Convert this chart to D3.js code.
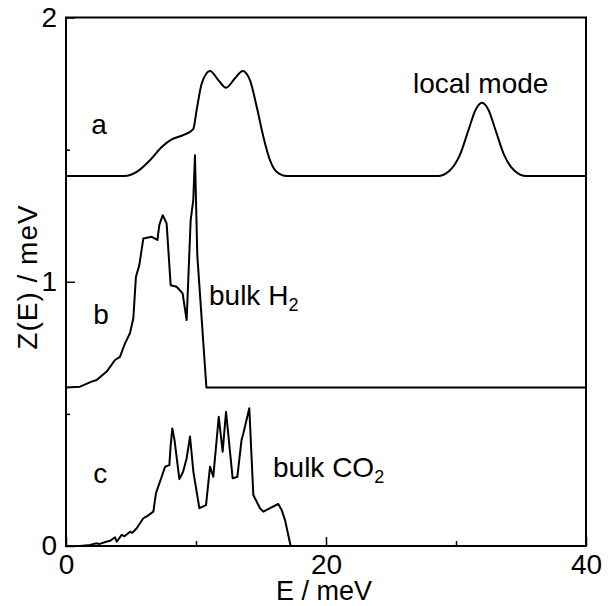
<!DOCTYPE html>
<html>
<head>
<meta charset="utf-8">
<script src="https://cdn.jsdelivr.net/npm/d3@7"></script>
<style>
  body { margin: 0; background: #fff; }
  text { font-family: "Liberation Sans", Arial, sans-serif; fill: #000; }
</style>
</head>
<body>
<script>
// curve a: smooth, offset up by 1.4
var curveA = [[0,1.40],[4.5,1.40],[5.44,1.416],[6.46,1.46],[7.36,1.51],[8.13,1.539],[9.02,1.555],[9.79,1.578],
  [10.05,1.65],[10.44,1.75],[11.08,1.798],[11.72,1.763],[12.31,1.734],[13.0,1.77],[13.59,1.798],[14.15,1.763],
  [14.67,1.662],[15.18,1.549],[15.69,1.46],[16.2,1.416],[16.97,1.40],[28.6,1.40],[29.5,1.42],[30.3,1.48],
  [31.0,1.58],[31.5,1.65],[32.0,1.677],[32.5,1.65],[33.0,1.58],[33.7,1.48],[34.5,1.42],[35.4,1.40],[40,1.40]];

// curve b: bulk H2, offset up by 0.6
var curveB = [[0,0.60],[1.08,0.603],[1.97,0.622],[2.36,0.628],[3.13,0.66],[3.77,0.704],[4.15,0.716],[4.54,0.767],
  [4.92,0.805],[5.18,0.862],[5.38,1.019],[5.64,1.063],[5.95,1.164],[6.59,1.17],[7.03,1.158],[7.18,1.215],
  [7.44,1.252],[7.74,1.221],[8.05,0.987],[8.51,0.981],[8.97,0.956],[9.28,0.855],[9.59,1.233],[9.79,1.309],
  [9.92,1.479],[10.1,1.10],[10.8,0.60],[40,0.60]];

// curve c: bulk CO2
var curveC = [[0,0],[1.08,0],[1.85,0.004],[2.3,0.01],[2.6,0.008],[3.1,0.016],[3.4,0.02],[3.77,0.033],[3.9,0.016],
  [4.28,0.042],[4.5,0.037],[4.92,0.054],[5.1,0.05],[5.44,0.067],[5.69,0.086],[5.95,0.105],[6.3,0.115],[6.72,0.13],
  [6.92,0.2],[7.36,0.262],[7.62,0.30],[7.95,0.306],[8.05,0.38],[8.18,0.445],[8.35,0.40],[8.72,0.253],[9.0,0.28],
  [9.28,0.332],[9.54,0.414],[9.8,0.28],[10.26,0.143],[10.77,0.155],[11.08,0.30],[11.33,0.262],[11.75,0.489],
  [12.05,0.357],[12.31,0.508],[12.82,0.256],[13.18,0.262],[13.5,0.40],[13.64,0.426],[14.1,0.521],[14.41,0.193],
  [14.92,0.143],[15.18,0.13],[15.69,0.143],[16.33,0.159],[16.59,0.136],[16.85,0.098],[17.28,0],[40,0]];

var xMajor = [0,20,40], xMinor = [10,30];
var yMajor = [0,1,2], yMinor = [0.5,1.5];

var labels = [
  {t:"a", x:1.95, y:1.56},
  {t:"b", x:2.1, y:0.84},
  {t:"c", x:2.1, y:0.24}
];

var W = 608, H = 606;
var svg = d3.select("body").append("svg").attr("width",W).attr("height",H);

var x = d3.scaleLinear().domain([0,40]).range([66,586]);
var y = d3.scaleLinear().domain([0,2]).range([546,17.5]);

var fs = 28;

// frame
svg.append("rect").attr("x",x(0)).attr("y",y(2)).attr("width",x(40)-x(0)).attr("height",y(0)-y(2))
   .attr("fill","none").attr("stroke","#000").attr("stroke-width",2);

var gx = svg.append("g").attr("transform","translate(0,"+y(0)+")")
   .call(d3.axisBottom(x).tickValues(xMajor).tickFormat(d3.format("d")).tickSizeInner(-9).tickSizeOuter(0).tickPadding(8));
var gx2 = svg.append("g").attr("transform","translate(0,"+y(0)+")")
   .call(d3.axisBottom(x).tickValues(xMinor).tickSizeInner(-5).tickSizeOuter(0).tickFormat(""));
var gy = svg.append("g").attr("transform","translate("+x(0)+",0)")
   .call(d3.axisLeft(y).tickValues(yMajor).tickFormat(d3.format("d")).tickSizeInner(-9).tickSizeOuter(0).tickPadding(9));
var gy2 = svg.append("g").attr("transform","translate("+x(0)+",0)")
   .call(d3.axisLeft(y).tickValues(yMinor).tickSizeInner(-4).tickSizeOuter(0).tickFormat(""));

svg.selectAll(".domain").remove();
svg.selectAll(".tick line").attr("stroke","#000").attr("stroke-width",1.5);
svg.selectAll(".tick text").attr("font-size",fs).attr("font-family","Liberation Sans, Arial, sans-serif");

var line = d3.line().x(function(d){ return x(d[0]); }).y(function(d){ return y(d[1]); });

svg.append("path").datum(curveA).attr("d",line.curve(d3.curveMonotoneX))
   .attr("fill","none").attr("stroke","#000").attr("stroke-width",2);
svg.append("path").datum(curveB).attr("d",line.curve(d3.curveLinear))
   .attr("fill","none").attr("stroke","#000").attr("stroke-width",2).attr("stroke-linejoin","round");
svg.append("path").datum(curveC).attr("d",line.curve(d3.curveLinear))
   .attr("fill","none").attr("stroke","#000").attr("stroke-width",2).attr("stroke-linejoin","round");

svg.selectAll("text.panel").data(labels).enter().append("text")
   .attr("class","panel")
   .attr("x",function(d){ return x(d.x); })
   .attr("y",function(d){ return y(d.y); })
   .attr("font-size",fs)
   .text(function(d){ return d.t; });

svg.append("text").attr("x",413).attr("y",93).attr("font-size",fs).text("local mode");

var h2 = svg.append("text").attr("x",209).attr("y",305).attr("font-size",fs);
h2.append("tspan").text("bulk H");
h2.append("tspan").attr("font-size",18).attr("dy",6).text("2");

var co2 = svg.append("text").attr("x",273).attr("y",477).attr("font-size",fs);
co2.append("tspan").text("bulk CO");
co2.append("tspan").attr("font-size",18).attr("dy",6).text("2");

svg.append("text").attr("x",324).attr("y",600).attr("text-anchor","middle").attr("font-size",27).text("E / meV");

svg.append("text").attr("transform","translate(37,277) rotate(-90)").attr("text-anchor","middle")
   .attr("font-size",fs).attr("letter-spacing",1).text("Z(E) / meV");
</script>
</body>
</html>
